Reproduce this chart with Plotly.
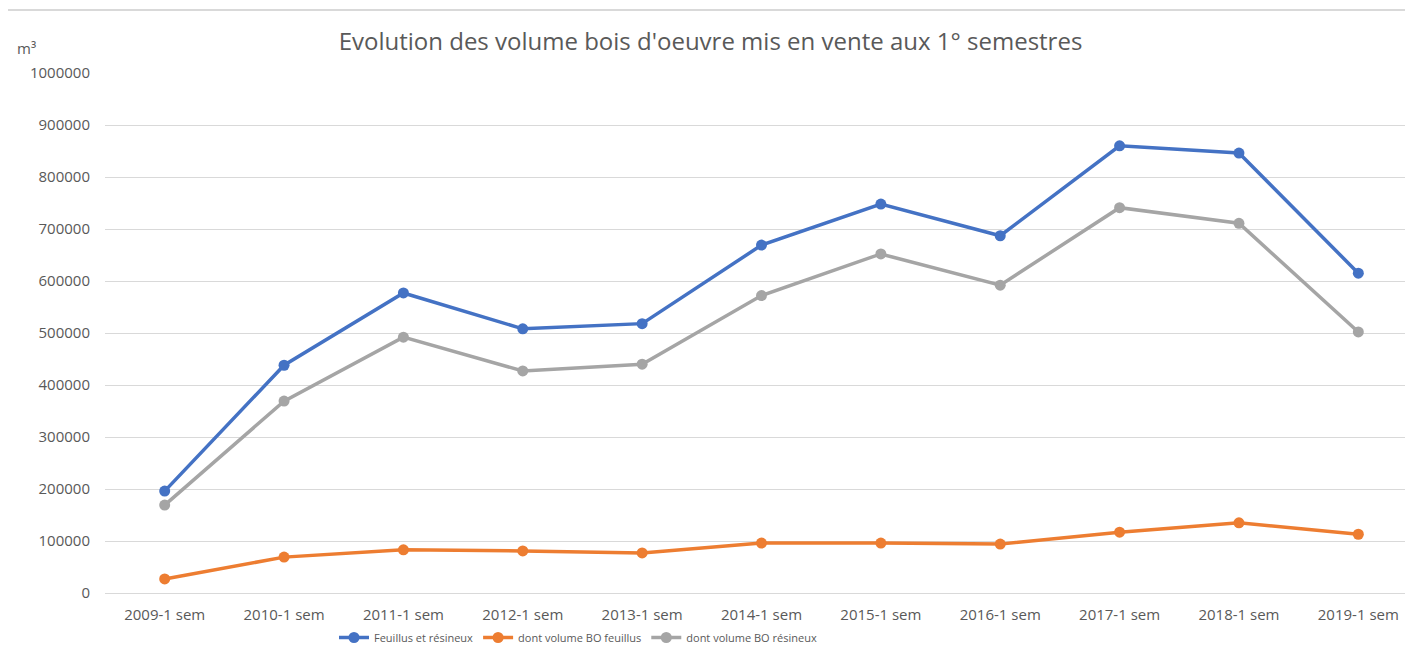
import plotly.graph_objects as go

categories = ["2009-1 sem", "2010-1 sem", "2011-1 sem", "2012-1 sem", "2013-1 sem", "2014-1 sem",
              "2015-1 sem", "2016-1 sem", "2017-1 sem", "2018-1 sem", "2019-1 sem"]
feuillus_resineux = [196000, 438000, 577000, 508000, 518000, 669000, 748000, 687000, 860000, 846000, 615000]
bo_feuillus = [27000, 69000, 83000, 81000, 77000, 96000, 96000, 94000, 117000, 135000, 113000]
bo_resineux = [169000, 369000, 492000, 427000, 440000, 572000, 652000, 592000, 741000, 711000, 502000]

series = [
    ("Feuillus et résineux", feuillus_resineux, "#4472C4"),
    ("dont volume BO feuillus", bo_feuillus, "#ED7D31"),
    ("dont volume BO résineux", bo_resineux, "#A5A5A5"),
]

FONT = "Open Sans, Liberation Sans, sans-serif"
TXT = "#595959"

fig = go.Figure()
for name, vals, col in series:
    fig.add_trace(go.Scatter(
        x=list(range(len(categories))), y=vals, name=name, mode="lines+markers",
        line=dict(color=col, width=3.5), marker=dict(color=col, size=11),
    ))

# page body has an 8px margin: work in page coordinates minus 8
OFF = 8
W, H = 1413 - OFF, 660 - OFF
L, R, T, B = 105 - OFF, 0, 73 - OFF, 67
pw = W - L - R
ph = H - T - B


def py(y_page):
    # page y -> paper y
    return 1 - ((y_page - OFF) - T) / ph


def px(x_page):
    return ((x_page - OFF) - L) / pw


fig.update_layout(
    width=W, height=H,
    margin=dict(l=L, r=R, t=T, b=B, pad=0),
    paper_bgcolor="white", plot_bgcolor="white",
    font=dict(family=FONT, color=TXT, size=15),
    title=dict(text="Evolution des volume bois d'oeuvre mis en vente aux 1° semestres",
               x=0.5, xref="container", xanchor="center", y=1 - (42 - OFF) / H, yref="container",
               yanchor="middle", font=dict(size=24, color=TXT, family=FONT)),
    showlegend=True,
    legend=dict(orientation="h", x=px(334), xanchor="left", y=py(623),
                yanchor="top", font=dict(size=11, color=TXT, family=FONT), bgcolor="rgba(0,0,0,0)",
                itemwidth=30, tracegroupgap=0),
    xaxis=dict(tickmode="array", tickvals=list(range(len(categories))), ticktext=categories,
               range=[-0.5, 10.5 - 5 / 119.4], showgrid=False, zeroline=False, showline=False,
               ticks="", tickfont=dict(size=15, color=TXT), ticklabelstandoff=11, fixedrange=True),
    yaxis=dict(range=[0, 1000000], tickmode="linear", tick0=0, dtick=100000, tickformat="d",
               showgrid=True, gridcolor="#D9D9D9", gridwidth=1.3, zeroline=True, zerolinecolor="#D9D9D9",
               zerolinewidth=1.3, showline=False, ticks="", tickfont=dict(size=15, color=TXT),
               ticklabelstandoff=14),
    annotations=[dict(text="m³", xref="paper", yref="paper", x=px(15), xanchor="left",
                      y=py(48), yanchor="middle", showarrow=False,
                      font=dict(size=15, color=TXT, family=FONT))],
    shapes=[dict(type="line", xref="paper", yref="paper", x0=px(0), x1=px(1413), y0=py(10),
                 y1=py(10), line=dict(color="#D9D9D9", width=2))],
)

fig.write_html("out.html")
